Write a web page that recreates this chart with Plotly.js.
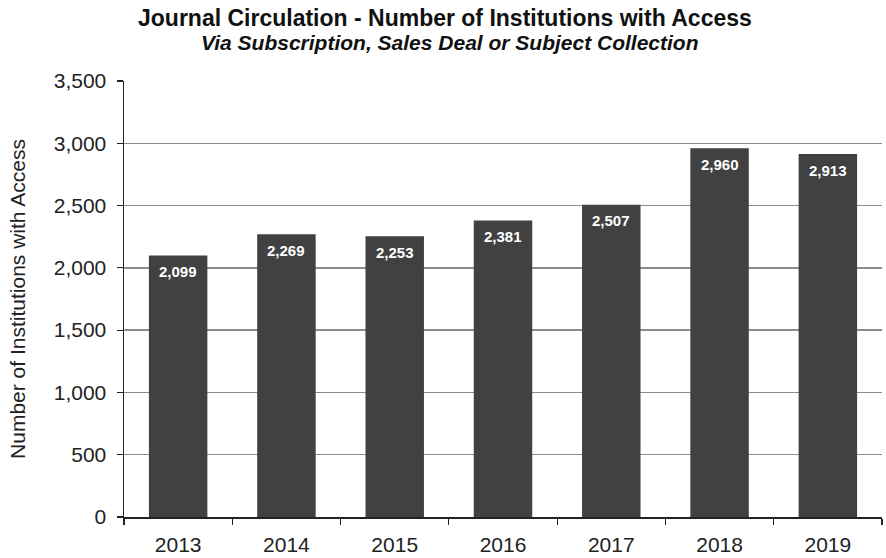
<!DOCTYPE html>
<html>
<head>
<meta charset="utf-8">
<script src="https://cdn.plot.ly/plotly-3.0.1.min.js"></script>
<style>html,body{margin:0;padding:0;background:#fff;}#chart{width:886px;height:558px;}</style>
</head>
<body>
<div id="chart"></div>
<script>
const years = ["2013","2014","2015","2016","2017","2018","2019"];
const institutions = [2099, 2269, 2253, 2381, 2507, 2960, 2913];
const yTickVals = [0, 500, 1000, 1500, 2000, 2500, 3000, 3500];
const yTickText = ["0","500","1,000","1,500","2,000","2,500","3,000","3,500"];
const titleText = "Journal Circulation - Number of Institutions with Access";
const subtitleText = "Via Subscription, Sales Deal or Subject Collection";
const yTitleText = "Number of Institutions with Access";

const FONT = "Liberation Sans, Arial, sans-serif";

const trace = {
  type: "bar",
  x: years,
  y: institutions,
  marker: {color: "#414141", line: {width: 0}},
  hoverinfo: "none"
};

const valueLabels = years.map((yr, i) => ({
  x: i, y: institutions[i], xref: "x", yref: "y",
  text: "<b>" + institutions[i].toLocaleString("en-US") + "</b>",
  showarrow: false, xanchor: "center", yanchor: "middle", yshift: -16,
  font: {family: FONT, size: 15, color: "#ffffff"}
}));

const plotH = 558 - 81 - 41;
const plotW = 886 - 124 - 4;
const titleAnns = [
  {px: 445, py: 18, text: "<b>" + titleText + "</b>", size: 23},
  {px: 450, py: 43, text: "<b><i>" + subtitleText + "</i></b>", size: 21}
].map(t => ({
  x: (t.px - 124) / plotW, y: (558 - 41 - t.py) / plotH,
  xref: "paper", yref: "paper", xanchor: "center", yanchor: "middle",
  text: t.text, showarrow: false,
  font: {family: FONT, size: t.size, color: "#111"}
}));

const layout = {
  width: 886, height: 558,
  margin: {l: 124, r: 4, t: 81, b: 41},
  paper_bgcolor: "#ffffff",
  plot_bgcolor: "#ffffff",
  bargap: 0.46,
  showlegend: false,
  font: {family: FONT, color: "#222222"},
  annotations: valueLabels.concat(titleAnns),
  xaxis: {
    type: "category",
    tickson: "boundaries",
    ticks: "outside", ticklen: 6, tickwidth: 1.2, tickcolor: "#222",
    showline: true, linecolor: "#222", linewidth: 1.5,
    showgrid: false,
    ticklabelstandoff: 8,
    tickfont: {size: 21, color: "#222"},
    range: [-0.5, 6.5]
  },
  yaxis: {
    range: [0, 3500],
    tickvals: yTickVals,
    ticktext: yTickText,
    ticks: "outside", ticklen: 6, tickwidth: 1.2, tickcolor: "#222",
    showline: true, linecolor: "#222", linewidth: 1.5,
    showgrid: true, gridcolor: "#8c8c8c", gridwidth: 1.3,
    zeroline: false,
    ticklabelstandoff: 6,
    tickfont: {size: 21, color: "#222"},
    title: {text: yTitleText, font: {size: 21, color: "#222"}, standoff: 22}
  }
};

Plotly.newPlot("chart", [trace], layout, {displayModeBar: false, staticPlot: true});
</script>
</body>
</html>
